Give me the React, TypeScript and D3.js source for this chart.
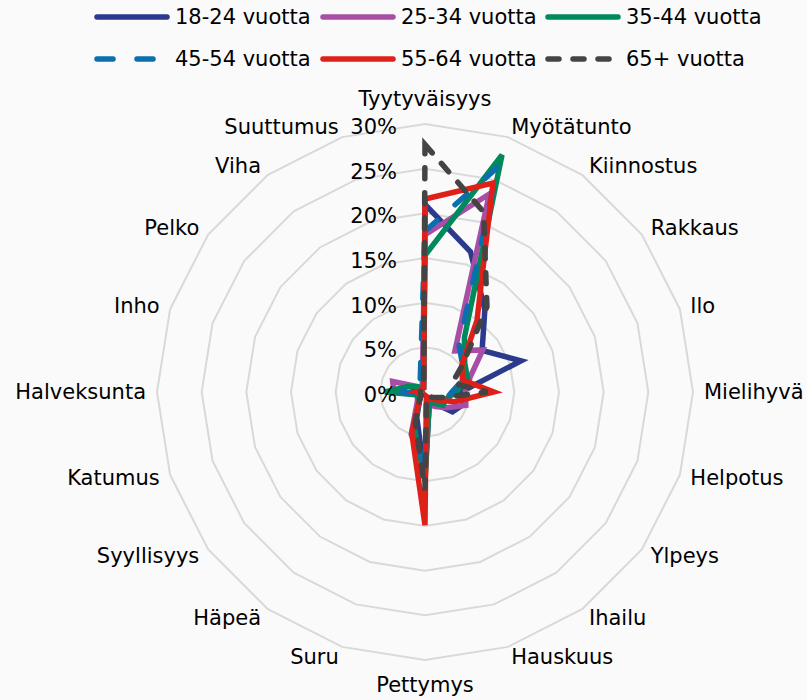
import * as d3 from "d3";

const categories = [
  "Tyytyväisyys", "Myötätunto", "Kiinnostus", "Rakkaus", "Ilo",
  "Mielihyvä", "Helpotus", "Ylpeys", "Ihailu", "Hauskuus",
  "Pettymys", "Suru", "Häpeä", "Syyllisyys", "Katumus",
  "Halveksunta", "Inho", "Pelko", "Viha", "Suuttumus",
];

const seriesNames = ["18-24 vuotta", "25-34 vuotta", "35-44 vuotta", "45-54 vuotta", "55-64 vuotta", "65+ vuotta"];

// percent values
const age18_24 = [21, 16.5, 11.4, 7.9, 11.3, 4.0, 4.5, 3.8, 1.5, 1.5, 9.5, 3, 1, 1, 1, 1.5, 1, 0.5, 0.5, 0.5];
const age25_34 = [17.6, 23.3, 5.7, 8, 5.3, 4.5, 4.8, 3, 2, 1.5, 8.5, 5, 1.5, 1, 1, 3.5, 3.8, 1, 0.5, 1];
const age35_44 = [15.3, 27.9, 7.5, 5.5, 5, 3.5, 2.5, 2.5, 1.5, 1.5, 10, 4, 1, 1, 1, 4.5, 2, 1, 0.5, 0.5];
const age45_54 = [18, 26.5, 6.5, 5.2, 4.5, 3, 2.5, 2, 1, 1, 9, 4, 1, 1, 0.5, 2.5, 2, 1, 1, 1.7];
const age55_64 = [21.6, 24.6, 9.9, 5.1, 4.4, 7.7, 3.5, 1.5, 1, 0.5, 14.9, 4.8, 1, 0.5, 0.5, 1, 0.5, 0.5, 0.5, 0.5];
const age65 = [27.7, 21.2, 11.8, 5.2, 3.2, 7, 2, 1, 0.5, 0.5, 11, 3.5, 1, 0.5, 0.5, 0.5, 0.5, 0.5, 0.5, 0.5];

const tickValues = [0, 5, 10, 15, 20, 25, 30];

const seriesData = [age18_24, age25_34, age35_44, age45_54, age55_64, age65];
const colors = ["#2b3a8c", "#a84ea6", "#00895a", "#0a6fac", "#de2018", "#444444"];
const dashes = [null, null, null, "16 24", null, "11 14"];

const width = 807;
const height = 700;
const cx = 425;
const cy = 392;
const outer = 268;
const font = "'DejaVu Sans', Verdana, sans-serif";

export default function App() {
  const r = d3.scaleLinear().domain([0, 30]).range([0, outer]);
  const angle = d3
    .scaleLinear()
    .domain([0, categories.length])
    .range([0, 2 * Math.PI]);

  const radial = d3
    .lineRadial<number>()
    .angle((_, i) => angle(i))
    .radius((d) => r(d))
    .curve(d3.curveLinearClosed);

  const ring = d3
    .lineRadial<string>()
    .angle((_, i) => angle(i))
    .curve(d3.curveLinearClosed);

  const legendCols = [97, 323, 548];
  const legendRows = [17, 59];

  return (
    <div style={{ position: "absolute", left: 0, top: 0, width, height, background: "#fafafa" }}>
      <svg width={width} height={height} style={{ display: "block", fontFamily: font }}>
        <g transform={`translate(${cx},${cy})`}>
          {tickValues.slice(1).map((t) => (
            <path
              key={t}
              d={ring.radius(r(t))(categories) || ""}
              fill="none"
              stroke="#d9d9d9"
              strokeWidth={2}
            />
          ))}
          {seriesData.map((s, i) => (
            <path
              key={seriesNames[i]}
              d={radial(s) || ""}
              fill="none"
              stroke={colors[i]}
              strokeWidth={5.5}
              strokeLinecap="round"
              strokeDasharray={dashes[i] || undefined}
            />
          ))}
          {tickValues.map((t) => (
            <text
              key={t}
              x={-28}
              y={-r(t) + 3}
              textAnchor="end"
              dominantBaseline="central"
              fontSize={21}
              fill="#000"
            >
              {t}%
            </text>
          ))}
          {categories.map((c, i) => {
            const a = angle(i);
            const s = Math.sin(a);
            const co = Math.cos(a);
            const vertical = Math.abs(s) < 0.01;
            const rr = vertical ? outer + 25 : outer + 11;
            return (
              <text
                key={c}
                x={rr * s}
                y={-rr * co}
                textAnchor={vertical ? "middle" : s > 0 ? "start" : "end"}
                dominantBaseline="central"
                fontSize={21}
                fill="#000"
              >
                {c}
              </text>
            );
          })}
        </g>
        <g>
          {seriesNames.map((name, i) => {
            const x = legendCols[i % 3];
            const y = legendRows[Math.floor(i / 3)];
            return (
              <g key={name}>
                <line
                  x1={x}
                  x2={x + 70}
                  y1={y}
                  y2={y}
                  stroke={colors[i]}
                  strokeWidth={5.5}
                  strokeLinecap="round"
                  strokeDasharray={dashes[i] || undefined}
                />
                <text x={x + 78} y={y} dominantBaseline="central" fontSize={21} fill="#000">
                  {name}
                </text>
              </g>
            );
          })}
        </g>
      </svg>
    </div>
  );
}
